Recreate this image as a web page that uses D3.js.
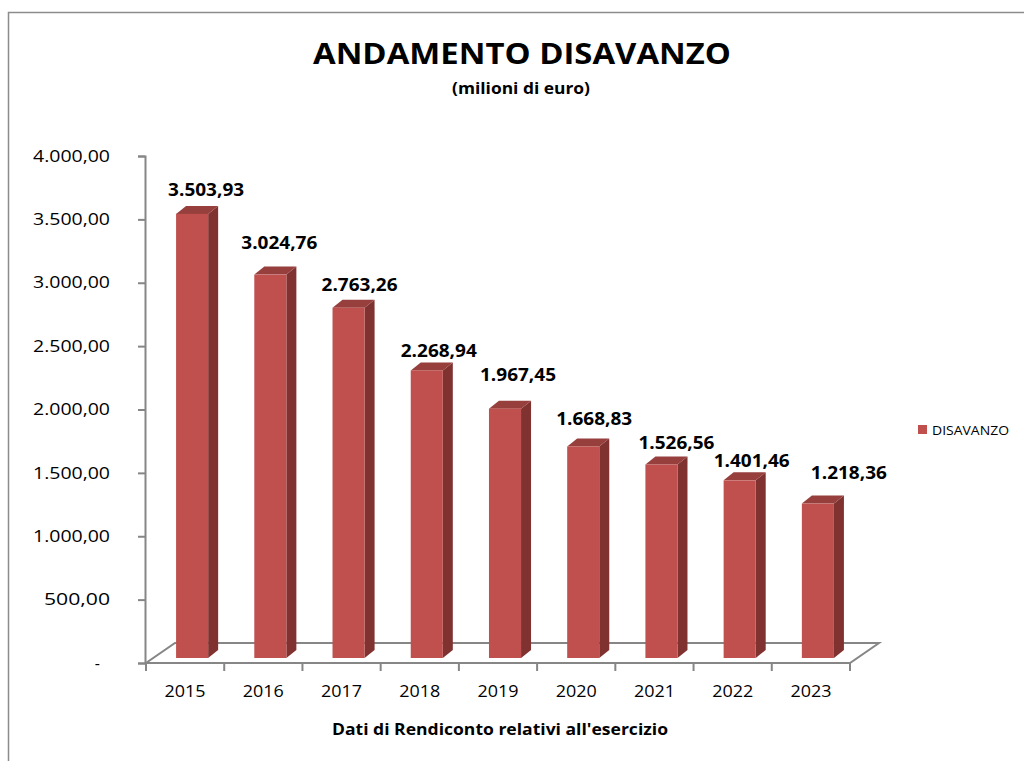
<!DOCTYPE html>
<html>
<head>
<meta charset="utf-8">
<script src="https://cdn.jsdelivr.net/npm/d3@7"></script>
<style>
  body { margin: 0; background: #fff; }
  svg { font-family: "Open Sans", sans-serif; }
</style>
</head>
<body>
<div class="chart"></div>
<script>
var years = ["2015", "2016", "2017", "2018", "2019", "2020", "2021", "2022", "2023"];
var disavanzo = [3503.93, 3024.76, 2763.26, 2268.94, 1967.45, 1668.83, 1526.56, 1401.46, 1218.36];
var yTicks = [0, 500, 1000, 1500, 2000, 2500, 3000, 3500, 4000];
var seriesName = "DISAVANZO";

// hand placed value labels in the original, offset from the bar top [dx, dy]
var labelNudge = [[14, -24], [9, -32], [11, -23], [12, -20], [13, -34], [11, -28], [15, -22], [12, -20], [31, -31]];

var w = 1024, h = 761;
var depth = [29, -20];          // floor front -> back
var barShift = [7, -5];         // bars sit a quarter into the floor
var barDepth = [10, -8];        // 3d thickness of each bar

var it = d3.formatLocale({decimal: ",", thousands: ".", grouping: [3], currency: ["", "€"]});
var fmt = it.format(",.2f");

// the source picture is stretched sideways, so text gets widened to match
function stretch(sel, len) {
  sel.attr("textLength", len).attr("lengthAdjust", "spacingAndGlyphs");
}

var x = d3.scaleBand().domain(years).range([146, 850]);
var y = d3.scaleLinear().domain([0, 4000]).range([663, 156]);

var svg = d3.select(".chart").append("svg")
  .attr("width", w)
  .attr("height", h);

// chart area border
svg.append("rect")
  .attr("x", 8.5).attr("y", 12.5)
  .attr("width", 1100).attr("height", 900)
  .attr("fill", "none")
  .attr("stroke", "#8c8c8c")
  .attr("stroke-width", 1.5);

svg.append("text")
  .attr("x", 522).attr("y", 64)
  .attr("text-anchor", "middle")
  .attr("font-size", 28).attr("font-weight", "bold")
  .text("ANDAMENTO DISAVANZO")
  .call(stretch, 418);

svg.append("text")
  .attr("x", 521).attr("y", 94)
  .attr("text-anchor", "middle")
  .attr("font-size", 16).attr("font-weight", "bold")
  .text("(milioni di euro)")
  .call(stretch, 138);

// floor
var x0 = x.range()[0], x1 = x.range()[1], y0 = y(0);
var floorPts = [[x0, y0], [x1, y0], [x1 + depth[0], y0 + depth[1]], [x0 + depth[0], y0 + depth[1]]];
svg.append("path")
  .attr("d", d3.line()(floorPts) + "Z")
  .attr("fill", "none")
  .attr("stroke", "#868686")
  .attr("stroke-width", 2);

// ticks between categories
svg.selectAll("line.xtick")
  .data(d3.range(years.length + 1))
  .enter()
  .append("line")
  .attr("class", "xtick")
  .attr("x1", function(i) { return x0 + i * x.step(); })
  .attr("x2", function(i) { return x0 + i * x.step(); })
  .attr("y1", y0).attr("y2", y0 + 8)
  .attr("stroke", "#868686")
  .attr("stroke-width", 2);

// y axis
var yAxis = svg.append("g")
  .attr("transform", "translate(145,0)")
  .call(d3.axisLeft(y)
    .tickValues(yTicks)
    .tickSize(7)
    .tickPadding(28)
    .tickFormat(function(d) { return d === 0 ? "-" : fmt(d); }));
yAxis.select(".domain").attr("stroke", "#868686").attr("stroke-width", 2);
yAxis.selectAll(".tick line").attr("stroke", "#868686").attr("stroke-width", 2);
yAxis.selectAll(".tick text")
  .attr("font-family", "Open Sans, sans-serif")
  .attr("font-size", 16)
  .attr("fill", "#000");
yAxis.selectAll(".tick text").filter(function(d) { return d !== 0; })
  .attr("textLength", function() { return this.textContent.length > 6 ? 77 : 66; })
  .attr("lengthAdjust", "spacingAndGlyphs");
yAxis.selectAll(".tick text").filter(function(d) { return d === 0; }).attr("x", -45);

// x axis labels
var xAxis = svg.append("g")
  .attr("transform", "translate(0," + y0 + ")")
  .call(d3.axisBottom(x).tickSize(0).tickPadding(22));
xAxis.select(".domain").remove();
xAxis.selectAll(".tick text")
  .attr("font-family", "Open Sans, sans-serif")
  .attr("font-size", 17)
  .attr("fill", "#000")
  .call(stretch, 41);

svg.append("text")
  .attr("x", 500).attr("y", 735)
  .attr("text-anchor", "middle")
  .attr("font-size", 16).attr("font-weight", "bold")
  .text("Dati di Rendiconto relativi all'esercizio")
  .call(stretch, 336);

// bars
var bw = x.bandwidth() * 0.41;
function barLeft(i) { return x(years[i]) + (x.bandwidth() - bw) / 2 + barShift[0]; }
function barTop(d) { return y(d) + barShift[1]; }
var base = y0 + barShift[1];

var bars = svg.selectAll("g.bar")
  .data(disavanzo)
  .enter()
  .append("g")
  .attr("class", "bar");

// side face
bars.append("path")
  .attr("fill", "#7f3230")
  .attr("d", function(d, i) {
    var l = barLeft(i) + bw, t = barTop(d);
    return d3.line()([[l, t], [l + barDepth[0], t + barDepth[1]], [l + barDepth[0], base + barDepth[1]], [l, base]]) + "Z";
  });

// top face
bars.append("path")
  .attr("fill", "#963f3d")
  .attr("d", function(d, i) {
    var l = barLeft(i), t = barTop(d);
    return d3.line()([[l, t], [l + barDepth[0], t + barDepth[1]], [l + bw + barDepth[0], t + barDepth[1]], [l + bw, t]]) + "Z";
  });

// front face
bars.append("rect")
  .attr("fill", "#c0504d")
  .attr("x", function(d, i) { return barLeft(i); })
  .attr("y", function(d) { return barTop(d); })
  .attr("width", bw)
  .attr("height", function(d) { return base - barTop(d); });

// value labels
bars.append("text")
  .attr("x", function(d, i) { return barLeft(i) + bw / 2 + labelNudge[i][0]; })
  .attr("y", function(d, i) { return barTop(d) + labelNudge[i][1]; })
  .attr("dy", "0.35em")
  .attr("text-anchor", "middle")
  .attr("font-size", 18).attr("font-weight", "bold")
  .text(function(d) { return fmt(d); })
  .call(stretch, 76);

// legend
var legend = svg.append("g").attr("transform", "translate(918,425)");
legend.append("rect")
  .attr("width", 9).attr("height", 9)
  .attr("fill", "#c0504d");
legend.append("text")
  .attr("x", 14).attr("y", 9.5)
  .attr("font-size", 13)
  .text(seriesName)
  .call(stretch, 77);
</script>
</body>
</html>
